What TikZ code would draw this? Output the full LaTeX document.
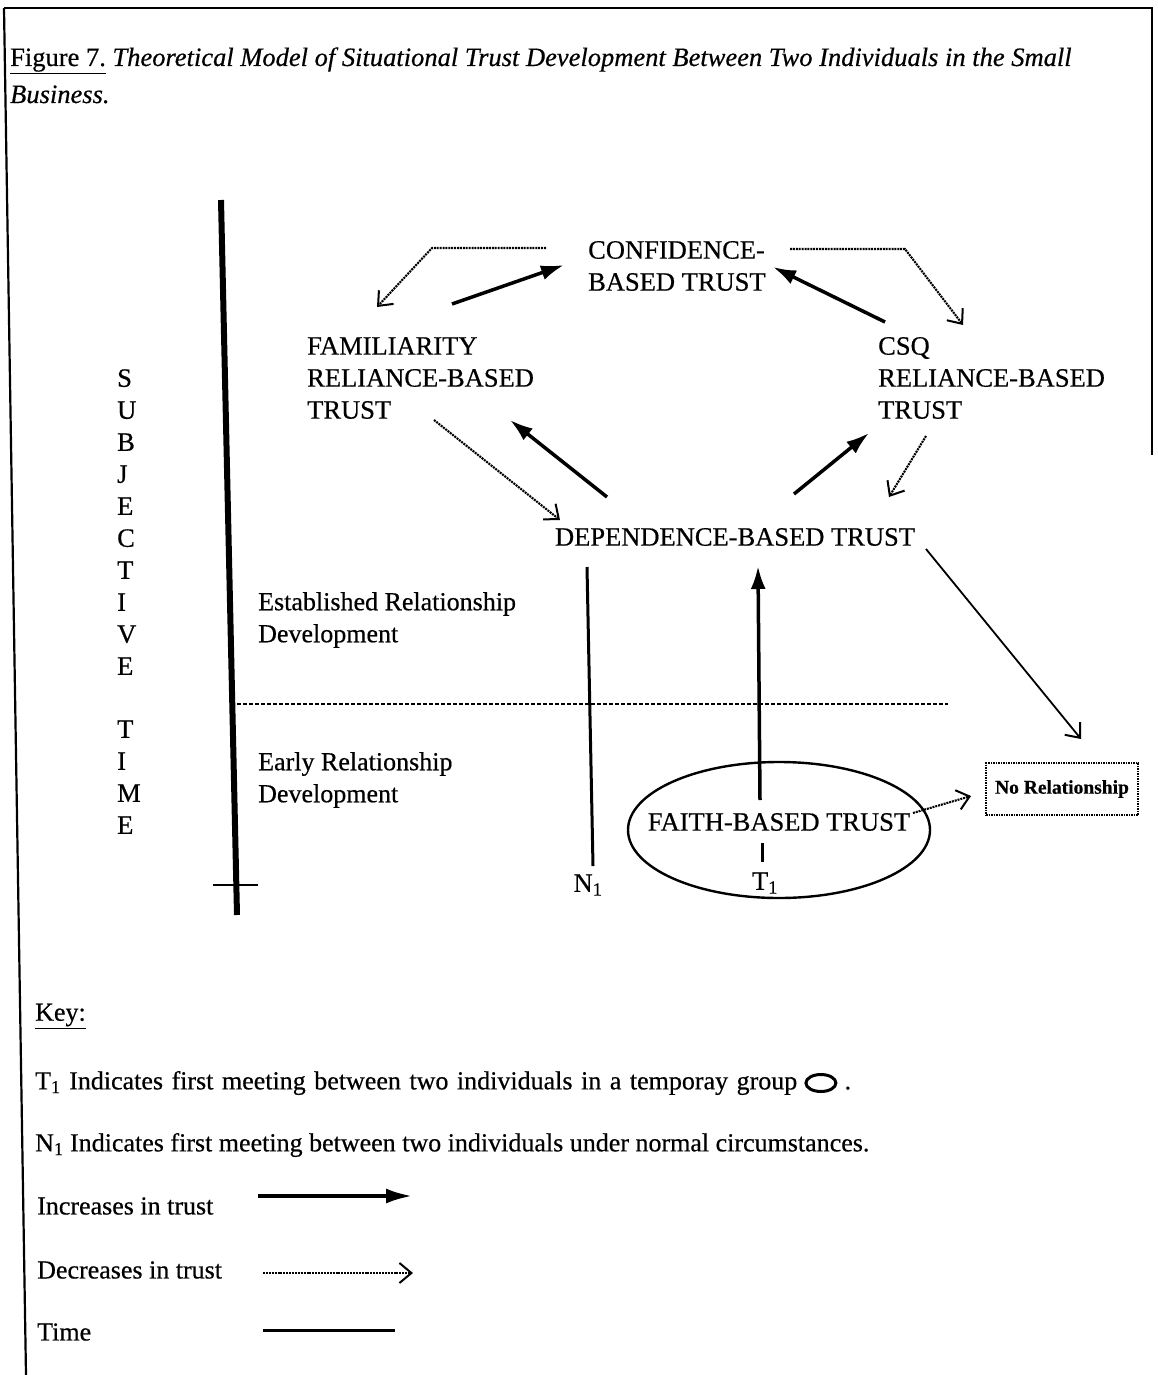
\documentclass[tikz,border=0pt]{standalone}
\usepackage{fontspec}
\setmainfont{Liberation Serif}[FakeBold=0.5]
\usetikzlibrary{arrows.meta,shapes.geometric,positioning}
\newcommand\dfont{\fontsize{26.5}{32}\selectfont}
\newcommand\kfont{\fontsize{26}{30}\selectfont}
\begin{document}
\begin{tikzpicture}[x=1pt,y=-1pt,
  txt/.style={inner sep=0pt, align=left, anchor=west, font=\dfont},
  ctxt/.style={inner sep=0pt, font=\dfont},
  keytxt/.style={inner sep=0pt, anchor=west, font=\kfont},
  inc/.style={line width=3.5pt, -{Latex[length=23pt,width=15pt]}},
  dec/.style={line width=2.1pt, dash pattern=on 2pt off 0.9pt,
    -{Straight Barb[length=12pt,width=20pt,line width=2pt]}},
  thinarr/.style={line width=1.8pt,
    -{Straight Barb[length=12pt,width=20pt,line width=2pt]}},
  timeline/.style={line width=3pt},
  border/.style={line width=2.2pt}
]
\useasboundingbox (0,0) rectangle (1158,1375);

% page frame
\coordinate (fTL) at (4,8);
\coordinate (fTR) at (1152,8);
\coordinate (fR) at (1152,455);
\coordinate (fBL) at (26,1375);
\draw[border] (fTL) -- (fTR) -- (fR);
\draw[border] (fTL) -- (fBL);

% caption
\node[inner sep=0pt, anchor=base west, font=\fontsize{26.5}{32}\selectfont] (cap1) at (10,66)
  {\underline{Figure 7.} \textit{Theoretical Model of Situational Trust Development Between Two Individuals in the Small}};
\node[inner sep=0pt, anchor=base west, font=\fontsize{26.5}{32}\selectfont] (cap2) at (10,103)
  {\textit{Business.}};

% subjective time axis
\node[inner sep=0pt, align=left, anchor=west, font=\dfont] (subj) at (117,601.5)
  {S\\U\\B\\J\\E\\C\\T\\I\\V\\E\\[31pt]T\\I\\M\\E};
\coordinate (axTop) at (221,200);
\coordinate (axBot) at (237,915);
\draw[line width=6pt] (axTop) -- (axBot);
\coordinate (tickL) at (213,885);
\coordinate (tickR) at (258,885);
\draw[line width=2pt] (tickL) -- (tickR);

% phase labels and divider
\node[txt, font=\fontsize{26}{32}\selectfont] (estab) at (258,620) {Established Relationship\\Development};
\node[txt, font=\fontsize{26}{32}\selectfont] (early) at (258,780) {Early Relationship\\Development};
\coordinate (divL) at (237,704);
\coordinate (divR) at (948,704);
\draw[line width=1.6pt, dash pattern=on 4pt off 2pt] (divL) -- (divR);

% trust states
\node[txt] (conf) at (588,266) {CONFIDENCE-\\BASED TRUST};
\node[txt] (fam) at (307,378) {FAMILIARITY\\RELIANCE-BASED\\TRUST};
\node[txt] (csq) at (878,378) {CSQ\\RELIANCE-BASED\\TRUST};
\node[ctxt] (dep) at (735,537) {DEPENDENCE-BASED TRUST};
\node[draw, ellipse, line width=2.4pt, minimum width=302pt, minimum height=136pt, inner sep=0pt] (grp) at (779,830) {};
\node[ctxt] (faith) at (779,822) {FAITH-BASED TRUST};
\node[draw, line width=2pt, dash pattern=on 1.5pt off 1pt, minimum width=152pt, minimum height=52pt, inner sep=0pt,
  font=\bfseries\fontsize{19.5}{23}\selectfont] (norel) at (1062,789) {No Relationship};

% first-meeting markers
\node[ctxt] (n1) at (588,885) {N\textsubscript{1}};
\node[ctxt] (t1) at (765,883) {T\textsubscript{1}};
\coordinate (n1top) at (587,567);
\coordinate (n1bot) at (593,866);
\draw[timeline] (n1top) -- (n1bot);
\coordinate (t1a) at (762,843);
\coordinate (t1b) at (762,862);
\draw[timeline] (t1a) -- (t1b);

% connector end points
\coordinate (c1a) at (546,248); \coordinate (c1b) at (432,248); \coordinate (c1c) at (377,307);
\coordinate (c2a) at (452,304); \coordinate (c2b) at (564,265);
\coordinate (c3a) at (790,249); \coordinate (c3b) at (905,249); \coordinate (c3c) at (963,325);
\coordinate (c4a) at (885,322); \coordinate (c4b) at (773,267);
\coordinate (c5a) at (434,420); \coordinate (c5b) at (560,520);
\coordinate (c6a) at (607,497); \coordinate (c6b) at (510,420);
\coordinate (c7a) at (794,494); \coordinate (c7b) at (869,433);
\coordinate (c8a) at (926,436); \coordinate (c8b) at (889,497);
\coordinate (c9a) at (926,549); \coordinate (c9b) at (1081,739);
\coordinate (c10a) at (913,813); \coordinate (c10b) at (971,796);
\coordinate (c11a) at (760,800); \coordinate (c11b) at (758,566);

% trust changes
\draw[dec] (c1a) -- (c1b) -- (c1c);
\draw[inc] (c2a) -- (c2b);
\draw[dec] (c3a) -- (c3b) -- (c3c);
\draw[inc] (c4a) -- (c4b);
\draw[dec] (c5a) -- (c5b);
\draw[inc] (c6a) -- (c6b);
\draw[inc] (c7a) -- (c7b);
\draw[dec] (c8a) -- (c8b);
\draw[thinarr] (c9a) -- (c9b);
\draw[dec] (c10a) -- (c10b);
\draw[inc] (c11a) -- (c11b);

% key
\node[keytxt] (key) at (35,1016) {\underline{Key:}};
\node[keytxt] (k1) at (35,1083) {\makebox[762pt][s]{T\textsubscript{1} Indicates first meeting between two individuals in a temporay group}};
\node[draw, ellipse, line width=3pt, minimum width=30pt, minimum height=17pt, inner sep=0pt, right=7pt of k1] (ksym) {};
\node[inner sep=0pt, font=\kfont, anchor=base west] (kdot) at ([xshift=7pt]ksym.east |- k1.base) {.};
\node[keytxt] (k2) at (35,1145) {N\textsubscript{1} Indicates first meeting between two individuals under normal circumstances.};
\node[keytxt] (k3) at (37,1206) {Increases in trust};
\node[keytxt] (k4) at (37,1270) {Decreases in trust};
\node[keytxt] (k5) at (37,1332) {Time};
\coordinate (k3a) at (258,1196); \coordinate (k3b) at (412,1196);
\coordinate (k4a) at (263,1273); \coordinate (k4b) at (413,1273);
\coordinate (k5a) at (263,1330); \coordinate (k5b) at (395,1330);
\draw[inc, -{Latex[length=26pt,width=15pt]}] (k3a) -- (k3b);
\draw[dec] (k4a) -- (k4b);
\draw[timeline] (k5a) -- (k5b);
\end{tikzpicture}
\end{document}
